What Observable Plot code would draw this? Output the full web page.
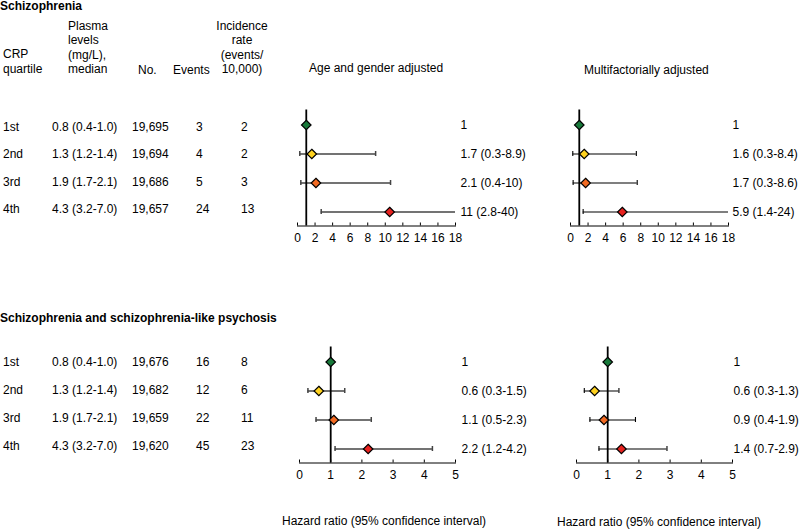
<!DOCTYPE html>
<html><head><meta charset="utf-8">
<script src="https://cdn.jsdelivr.net/npm/d3@7"></script>
<script src="https://cdn.jsdelivr.net/npm/@observablehq/plot@0.6"></script>
<style>
body{margin:0;background:#fff;}
#fig{position:relative;width:800px;height:530px;font-family:"Liberation Sans",Arial,sans-serif;font-size:12px;color:#000;overflow:hidden;background:#fff;}
.t{position:absolute;white-space:nowrap;line-height:14px;}
.b{font-weight:bold;}
.p{position:absolute;}
</style></head><body><div id="fig"></div>
<script>
// ---------- data ----------
const quartiles = ["1st", "2nd", "3rd", "4th"];
const plasmaMedians = ["0.8 (0.4-1.0)", "1.3 (1.2-1.4)", "1.9 (1.7-2.1)", "4.3 (3.2-7.0)"];

// Schizophrenia
const schNo = [19695, 19694, 19686, 19657];
const schEvents = [3, 4, 5, 24];
const schIncidence = [2, 2, 3, 13];
const schAgeHR = [1, 1.63, 2.1, 10.5];
const schAgeLo = [null, 0.26, 0.38, 2.7];
const schAgeHi = [null, 8.9, 10.6, 40];
const schAgeLabels = ["1", "1.7 (0.3-8.9)", "2.1 (0.4-10)", "11 (2.8-40)"];
const schMultiHR = [1, 1.56, 1.72, 5.9];
const schMultiLo = [null, 0.26, 0.3, 1.44];
const schMultiHi = [null, 7.5, 7.6, 24];
const schMultiLabels = ["1", "1.6 (0.3-8.4)", "1.7 (0.3-8.6)", "5.9 (1.4-24)"];

// Schizophrenia and schizophrenia-like psychosis
const psyNo = [19676, 19682, 19659, 19620];
const psyEvents = [16, 12, 22, 45];
const psyIncidence = [8, 6, 11, 23];
const psyAgeHR = [1, 0.62, 1.1, 2.2];
const psyAgeLo = [null, 0.27, 0.53, 1.14];
const psyAgeHi = [null, 1.45, 2.3, 4.26];
const psyAgeLabels = ["1", "0.6 (0.3-1.5)", "1.1 (0.5-2.3)", "2.2 (1.2-4.2)"];
const psyMultiHR = [1, 0.58, 0.88, 1.44];
const psyMultiLo = [null, 0.25, 0.43, 0.72];
const psyMultiHi = [null, 1.36, 1.89, 2.9];
const psyMultiLabels = ["1", "0.6 (0.3-1.3)", "0.9 (0.4-1.9)", "1.4 (0.7-2.9)"];

const schTicks = [0, 2, 4, 6, 8, 10, 12, 14, 16, 18];
const psyTicks = [0, 1, 2, 3, 4, 5];
const referenceHR = 1;

const sectionTitles = ["Schizophrenia", "Schizophrenia and schizophrenia-like psychosis"];
const panelTitles = ["Age and gender adjusted", "Multifactorially adjusted"];
const axisTitle = "Hazard ratio (95% confidence interval)";

// ---------- styles ----------
const quartileColors = ["#18793a", "#ffd21f", "#f26a22", "#e8221f"];
const fig = document.getElementById("fig");
const fmt = d3.format(",");

function txt(s, x, yc, cls = "", extra = {}) {
  const d = document.createElement("div");
  d.className = "t " + cls;
  d.textContent = s;
  d.style.left = x + "px";
  d.style.top = (yc - 7) + "px";
  Object.assign(d.style, extra);
  fig.appendChild(d);
  return d;
}
function multi(lines, x, ytop, align) {
  const d = document.createElement("div");
  d.className = "t";
  d.style.lineHeight = "14.5px";
  d.style.left = x + "px";
  d.style.top = ytop + "px";
  d.style.textAlign = align || "left";
  d.innerHTML = lines.join("<br>");
  fig.appendChild(d);
  return d;
}

// section titles
txt(sectionTitles[0], 0, 5.5, "b");
txt(sectionTitles[1], 0, 318, "b");

// headers
multi(["CRP", "quartile"], 3, 47);
multi(["Plasma", "levels", "(mg/L),", "median"], 68, 18.5);
txt("No.", 138, 69.5);
txt("Events", 173, 69.5);
const inc = multi(["Incidence", "rate", "(events/", "10,000)"], 0, 18.5, "center");
inc.style.left = "212px"; inc.style.width = "60px";

// panel titles
txt(panelTitles[0], 309, 68);
txt(panelTitles[1], 584, 70);
txt(axisTitle, 282, 521);
txt(axisTitle, 557, 522);

function tableRows(no, ev, incd, y0, step) {
  quartiles.forEach((q, i) => {
    const y = y0 + i * step;
    txt(q, 3, y);
    txt(plasmaMedians[i], 52, y);
    txt(fmt(no[i]), 132, y);
    txt(String(ev[i]), 196, y);
    txt(String(incd[i]), 241, y);
  });
}
tableRows(schNo, schEvents, schIncidence, 127, 27.4);
tableRows(psyNo, psyEvents, psyIncidence, 362, 28);

function forest(o) {
  const rows = quartiles.map((q, i) => ({q, hr: o.hr[i], lo: o.lo[i], hi: o.hi[i], label: o.labels[i]}));
  const chart = Plot.plot({
    width: o.width, height: o.height,
    marginTop: o.mt, marginBottom: o.mb, marginLeft: o.ml, marginRight: o.mr,
    style: {fontSize: "12px", fontFamily: '"Liberation Sans", Arial, sans-serif', color: "#000", background: "transparent", overflow: "visible"},
    x: {domain: o.domain, axis: null},
    y: {type: "band", domain: quartiles, padding: 0, axis: null},
    color: {domain: quartiles, range: quartileColors},
    marks: [
      Plot.frame({anchor: "bottom", stroke: "#000", strokeWidth: 1}),
      Plot.axisX({ticks: o.ticks, tickSize: -3, tickPadding: 10, tickFormat: d => String(d), stroke: "#000", fill: "#000"}),
      Plot.ruleY(rows, {y: "q", x1: "lo", x2: "hi", stroke: o.whisker, strokeWidth: o.ww, clip: true}),
      Plot.tickX(rows, {x: "lo", y: "q", insetTop: 12, insetBottom: 12, stroke: o.whisker, strokeWidth: o.ww, clip: true}),
      Plot.tickX(rows, {x: "hi", y: "q", insetTop: 12, insetBottom: 12, stroke: o.whisker, strokeWidth: o.ww, clip: true}),
      Plot.ruleX([referenceHR], {stroke: "#000", strokeWidth: 1.8}),
      Plot.dot(rows, {x: "hr", y: "q", symbol: "diamond2", r: 4.3, fill: "q", stroke: "#000", strokeWidth: 1.2}),
      Plot.text(rows, {y: "q", text: "label", frameAnchor: "right", textAnchor: "start", dx: o.dx, fill: "#000"})
    ]
  });
  const wrap = document.createElement("div");
  wrap.className = "p";
  wrap.style.left = o.left + "px";
  wrap.style.top = o.top + "px";
  wrap.appendChild(chart);
  fig.appendChild(wrap);
}

forest({left: 270, top: 0, width: 270, height: 250, mt: 109.5, mb: 24.5, ml: 27, mr: 85,
  domain: [0, 18], ticks: schTicks, hr: schAgeHR, lo: schAgeLo, hi: schAgeHi, labels: schAgeLabels,
  dx: 5, whisker: "#444", ww: 1.5});
forest({left: 540, top: 0, width: 260, height: 250, mt: 109.5, mb: 24.5, ml: 30, mr: 72,
  domain: [0, 18], ticks: schTicks, hr: schMultiHR, lo: schMultiLo, hi: schMultiHi, labels: schMultiLabels,
  dx: 4, whisker: "#000", ww: 1.1});
forest({left: 270, top: 250, width: 270, height: 250, mt: 96.5, mb: 37.5, ml: 29, mr: 85,
  domain: [0, 5], ticks: psyTicks, hr: psyAgeHR, lo: psyAgeLo, hi: psyAgeHi, labels: psyAgeLabels,
  dx: 6, whisker: "#444", ww: 1.5});
forest({left: 540, top: 250, width: 260, height: 250, mt: 96.5, mb: 37.5, ml: 36, mr: 68,
  domain: [0, 5], ticks: psyTicks, hr: psyMultiHR, lo: psyMultiLo, hi: psyMultiHi, labels: psyMultiLabels,
  dx: 1, whisker: "#000", ww: 1.1});
</script>
</body></html>
